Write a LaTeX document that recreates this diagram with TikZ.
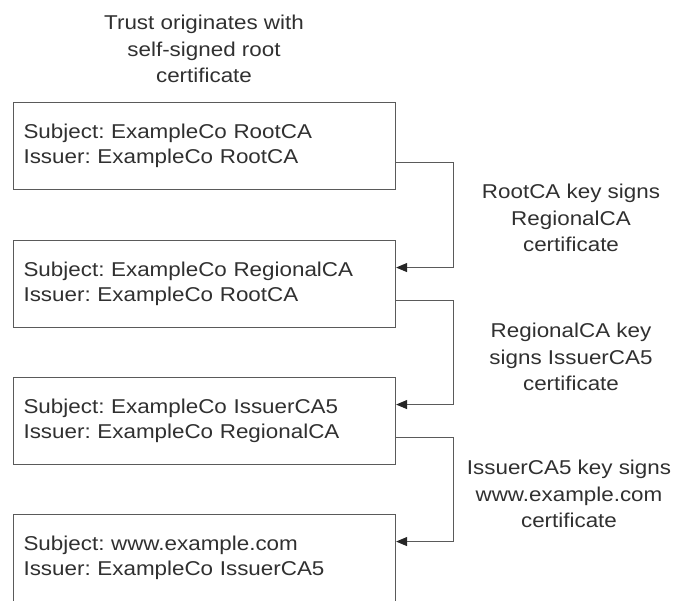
\documentclass[tikz,border=0pt]{standalone}
\usepackage{fontspec}
\setmainfont[FakeStretch=1.12]{Liberation Sans}
\usetikzlibrary{arrows.meta}
\definecolor{certline}{HTML}{5a5a5a}
\definecolor{certtext}{HTML}{303030}
\frenchspacing

\begin{document}
\begin{tikzpicture}[x=1pt, y=-1pt,
    cert/.style={draw=certline, line width=1.1pt, minimum width=382pt, minimum height=87pt,
        text width=362pt, inner sep=10pt, align=left, anchor=north west, text=certtext,
        font=\fontsize{20}{24.5}\selectfont},
    note/.style={align=center, text=certtext, font=\fontsize{20}{26.5}\selectfont},
    signs/.style={draw=certline, line width=1.1pt,
        -{Triangle[length=11pt,width=9pt,fill=black!85,color=black!85]}}]
    \useasboundingbox (0,0) rectangle (676,601);

    % Where trust starts
    \node[note] (trust) at (204,49) {Trust originates with\\ self-signed root\\ certificate};

    % Certificate chain
    \node[cert] (root) at (13,102) {Subject: ExampleCo RootCA\\ Issuer: ExampleCo RootCA};
    \node[cert] (regional) at (13,240) {Subject: ExampleCo RegionalCA\\ Issuer: ExampleCo RootCA};
    \node[cert] (issuer) at (13,377) {Subject: ExampleCo IssuerCA5\\ Issuer: ExampleCo RegionalCA};
    \node[cert] (leaf) at (13,514) {Subject: www.example.com\\ Issuer: ExampleCo IssuerCA5};

    % Signing links
    \draw[signs] ([yshift=-16.5pt]root.east) -- ++(57,0) |- ([yshift=16.5pt]regional.east);
    \draw[signs] ([yshift=-16.5pt]regional.east) -- ++(57,0) |- ([yshift=16.5pt]issuer.east);
    \draw[signs] ([yshift=-16.5pt]issuer.east) -- ++(57,0) |- ([yshift=16.5pt]leaf.east);

    % Signing notes
    \node[note] (sign1) at (571,218) {RootCA key signs\\ RegionalCA\\ certificate};
    \node[note] (sign2) at (571,357) {RegionalCA key\\ signs IssuerCA5\\ certificate};
    \node[note] (sign3) at (569,494) {IssuerCA5 key signs\\ www.example.com\\ certificate};
\end{tikzpicture}
\end{document}
